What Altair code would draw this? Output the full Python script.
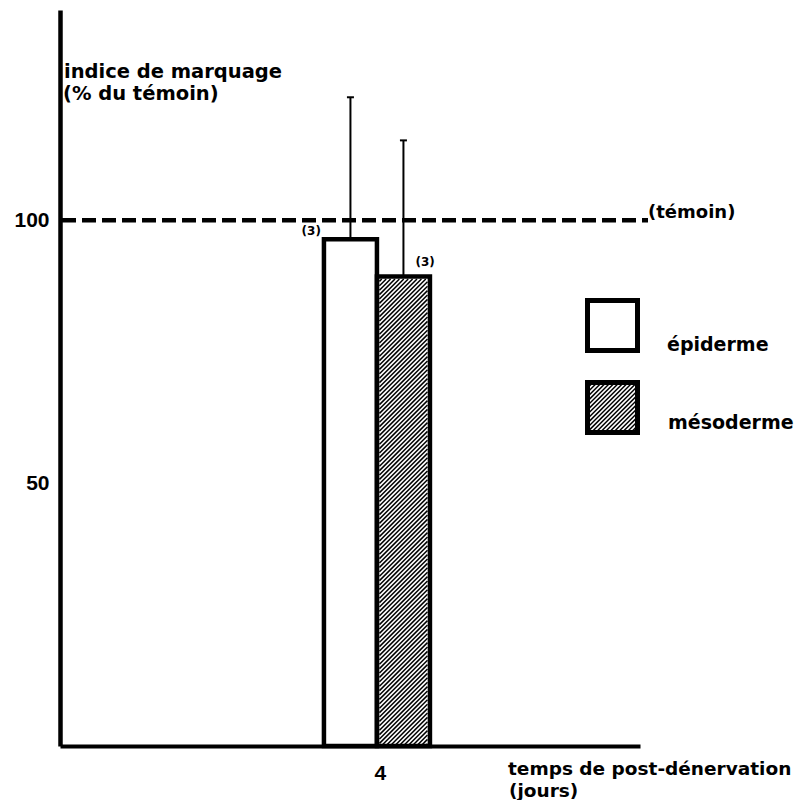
import altair as alt
import pandas as pd
import numpy as np

# ---------------- data ----------------
tissues = ["épiderme", "mésoderme"]
days = [4, 4]
means = [96.4, 89.3]          # indice de marquage (% du témoin)
uppers = [123.4, 115.2]       # top of the error bars
n_labels = ["(3)", "(3)"]
y_ticks = [50, 100]
x_ticks = [4]
control_value = 100
y_title = ["indice de marquage", "(% du témoin)"]
x_title = ["temps de post-dénervation", "(jours)"]
control_label = "(témoin)"

# ---------------- layout / style constants ----------------
W, H = 580, 736
XMAX, YMAX = 7.32, 140
PX_X = W / XMAX
PX_Y = H / YMAX
BAR_W = 53 / PX_X
FONT = "DejaVu Sans"
DIGIT_FONT = "Liberation Sans"
HATCH_STEP = 4.4
HATCH_W = 1.5

xs = alt.Scale(domain=[0, XMAX], nice=False, zero=False)
ys = alt.Scale(domain=[0, YMAX], nice=False, zero=False)
AX = alt.Axis(values=x_ticks, ticks=False, tickSize=0, grid=False, title=None,
              labelPadding=16, domainWidth=4, domainColor="black",
              labelFont=DIGIT_FONT, labelFontSize=21, labelOffset=3,
              labelFontWeight="bold", labelColor="black")
AY = alt.Axis(values=y_ticks, ticks=False, tickSize=0, grid=False, title=None,
              labelPadding=11, domainWidth=4.5, domainColor="black",
              labelFont=DIGIT_FONT, labelFontSize=21,
              labelFontWeight="bold", labelColor="black")


def X(f):
    return alt.X(f, scale=xs, axis=AX, title=None)


def Y(f):
    return alt.Y(f, scale=ys, axis=AY, title=None)


bars = pd.DataFrame({"tissue": tissues, "day": days, "mean": means,
                     "upper": uppers, "n": n_labels})
bars["x0"] = [d - BAR_W if i == 0 else d for i, d in enumerate(days)]
bars["x1"] = bars["x0"] + BAR_W
bars["xc"] = (bars["x0"] + bars["x1"]) / 2
bars["cl"] = bars["xc"] - 3.5 / PX_X
bars["cr"] = bars["xc"] + 3.5 / PX_X
bars["zero"] = 0.0


def hatch(x0, x1, y0, y1, step):
    """'/' hatch segments inside a pixel rectangle (y upwards)."""
    w, h = x1 - x0, y1 - y0
    segs = []
    for c in np.arange(-w + step / 2, h, step):
        us, ue = max(0.0, -c), min(w, h - c)
        if ue > us:
            segs.append((x0 + us, y0 + us + c, x0 + ue, y0 + ue + c))
    return segs


# hatch of the mésoderme bar (pattern fill)
mb = bars.iloc[1]
segs = hatch(mb["x0"] * PX_X + 2.5, mb["x1"] * PX_X - 2.5, 0.0,
             mb["mean"] * PX_Y - 2.5, HATCH_STEP)
# hatch of the legend box (legend box: x 525..580, y-down 370..425)
segs += hatch(527.5, 577.5, H - 422.5, H - 372.5, HATCH_STEP)
hatch_df = pd.DataFrame(segs, columns=["hx", "hy", "hx2", "hy2"])
hatch_df[["hx", "hx2"]] /= PX_X
hatch_df[["hy", "hy2"]] /= PX_Y

base = alt.Chart(bars)

fill_layer = base.mark_rect(fill="white").encode(
    x=X("x0:Q"), x2="x1:Q", y=Y("mean:Q"), y2="zero:Q")

hatch_layer = alt.Chart(hatch_df).mark_rule(color="black", strokeWidth=HATCH_W).encode(
    x=X("hx:Q"), y=Y("hy:Q"), x2="hx2:Q", y2="hy2:Q")

outline = base.mark_rect(fillOpacity=0, stroke="black", strokeWidth=4.5).encode(
    x=X("x0:Q"), x2="x1:Q", y=Y("mean:Q"), y2="zero:Q")

err = base.mark_rule(color="black", strokeWidth=2).encode(
    x=X("xc:Q"), y=Y("mean:Q"), y2="upper:Q")

caps = base.mark_rule(color="black", strokeWidth=2).encode(
    x=X("cl:Q"), x2="cr:Q", y=Y("upper:Q"))

n_epi = alt.Chart(bars.iloc[[0]]).mark_text(
    align="right", baseline="bottom", dx=-3, dy=-1, font=FONT,
    fontWeight="bold", fontSize=12, color="black").encode(
    x=X("x0:Q"), y=Y("mean:Q"), text="n:N")
n_meso = alt.Chart(bars.iloc[[1]]).mark_text(
    align="left", baseline="bottom", dx=12, dy=-8, font=FONT,
    fontWeight="bold", fontSize=12, color="black").encode(
    x=X("xc:Q"), y=Y("mean:Q"), text="n:N")

ctrl = pd.DataFrame({"v": [control_value], "t": [control_label]})
ctrl_rule = alt.Chart(ctrl).mark_rule(color="black", strokeWidth=4.5,
                                      strokeDash=[14, 6]).encode(
    y=Y("v:Q"), x=alt.value(2), x2=alt.value(588))
ctrl_text = alt.Chart(ctrl).mark_text(
    align="left", baseline="middle", dy=-7, font=FONT, fontWeight="bold",
    fontSize=18, color="black").encode(
    y=Y("v:Q"), x=alt.value(588), text="t:N")


def label(txt, x, y, size=19, align="left", baseline="alphabetic"):
    return alt.Chart(pd.DataFrame({"t": [txt]})).mark_text(
        align=align, baseline=baseline, font=FONT, fontWeight="bold",
        fontSize=size, color="black").encode(
        text="t:N", x=alt.value(x), y=alt.value(y))


def box(y0, y1):
    return alt.Chart(pd.DataFrame({"t": [0]})).mark_rect(
        fillOpacity=0, stroke="black", strokeWidth=5).encode(
        x=alt.value(527.5), x2=alt.value(577.5), y=alt.value(y0), y2=alt.value(y1))


legend_fill = alt.Chart(pd.DataFrame({"t": [0]})).mark_rect(fill="white").encode(
    x=alt.value(527.5), x2=alt.value(577.5), y=alt.value(290.5), y2=alt.value(340.5))

chart = alt.layer(
    fill_layer, hatch_layer, outline, err, caps, n_epi, n_meso,
    ctrl_rule, ctrl_text,
    label(y_title[0], 4, 68, size=19.5), label(y_title[1], 3, 90, size=19.5),
    label(x_title[0], 448, 765, size=18.5), label(x_title[1], 449, 787, size=18.5),
    legend_fill, box(290.5, 340.5), box(372.5, 422.5),
    label(tissues[0], 607, 335, baseline="middle"),
    label(tissues[1], 608, 413, baseline="middle"),
).properties(
    width=W, height=H, autosize=alt.AutoSizeParams(type="none"),
    padding={"left": 52, "top": 2, "right": 155, "bottom": 54},
    background="white",
).configure_view(stroke=None)

chart.save("out.html", embed_options={"renderer": "svg", "actions": False})
